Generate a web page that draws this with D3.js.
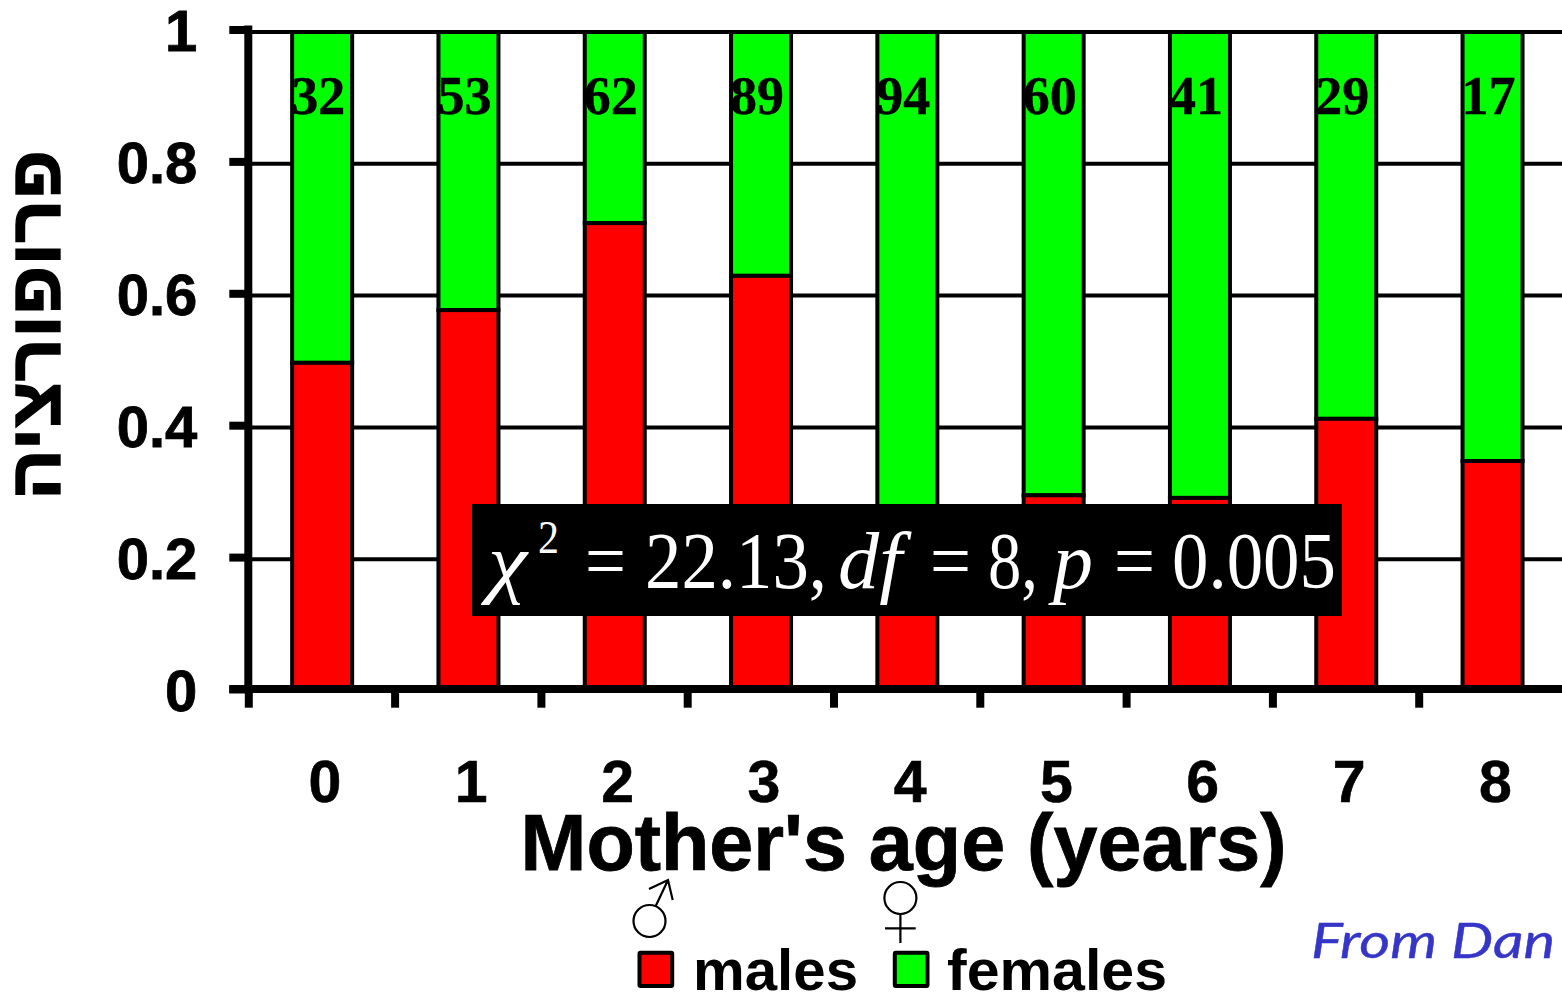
<!DOCTYPE html>
<html><head><meta charset="utf-8">
<script src="https://cdn.jsdelivr.net/npm/d3@7/dist/d3.min.js"></script>
<style>
html,body{margin:0;padding:0;background:#fff;overflow:hidden}
svg{display:block}
text{font-family:"Liberation Sans",Arial,sans-serif;font-weight:700;fill:#000}
.serif{font-family:"Liberation Serif",serif}
</style></head><body>
<svg id="c" width="1562" height="993"></svg>
<script>
const ages = [0,1,2,3,4,5,6,7,8];
const maleShare = [0.498,0.578,0.710,0.630,0.27,0.297,0.293,0.413,0.349];
const counts = [32,53,62,89,94,60,41,29,17];
const yTicks = [0,0.2,0.4,0.6,0.8,1];
const yTickLabels = ["0","0.2","0.4","0.6","0.8","1"];
const xBoundaries = [-0.5,0.5,1.5,2.5,3.5,4.5,5.5,6.5,7.5];
const legendItems = ["males","females"];
const colors = {males:"#ff0000",females:"#00ff00"};
const yTitle = "פרופורציה";
const xTitle = "Mother's age (years)";
const statParts = [
 {t:"χ",x:488,len:39,style:"italic",size:78,base:588},
 {t:"2",x:538,len:21,style:"normal",size:46,base:553},
 {t:"=",x:585,len:41,style:"normal",size:80,base:588},
 {t:"22.13,",x:645,len:182,style:"normal",size:80,base:588},
 {t:"df",x:838,len:64,style:"italic",size:80,base:588},
 {t:"=",x:930,len:41,style:"normal",size:80,base:588},
 {t:"8,",x:988,len:50,style:"normal",size:80,base:588},
 {t:"p",x:1053,len:40,style:"italic",size:80,base:588},
 {t:"=",x:1114,len:41,style:"normal",size:80,base:588},
 {t:"0.005",x:1172,len:164,style:"normal",size:80,base:588}];

const svg = d3.select("#c");
const x = d3.scaleLinear().domain([-0.5,8.5]).range([248.3,1565]);
const y = d3.scaleLinear().domain([0,1]).range([691,32]);
const yAxisScale = d3.scaleLinear().domain([0,1]).range([689,29.5]);
const barW = 60;
const sw = 4;

// gridlines
svg.append("g").selectAll("line").data(yTicks.filter(d=>d>0)).join("line")
  .attr("x1",248).attr("x2",1562).attr("y1",d=>y(d)).attr("y2",d=>y(d))
  .attr("stroke","#000").attr("stroke-width",4);

// bars
const bars = svg.append("g").selectAll("g").data(ages).join("g");
const bx = d => x(d)+0.7-barW/2;
bars.append("rect").attr("x",bx).attr("width",barW)
  .attr("y",y(1)).attr("height",(d,i)=>y(maleShare[i])-y(1))
  .attr("fill",colors.females).attr("stroke","#000").attr("stroke-width",sw);
bars.append("rect").attr("x",bx).attr("width",barW)
  .attr("y",(d,i)=>y(maleShare[i])).attr("height",(d,i)=>y(0)-y(maleShare[i]))
  .attr("fill",colors.males).attr("stroke","#000").attr("stroke-width",sw);
bars.append("text").attr("class","serif").attr("x",d=>bx(d)-1).attr("y",114)
  .attr("font-size",54).attr("stroke","#000").attr("stroke-width",0.4).text((d,i)=>counts[i]);

// top line
svg.append("line").attr("x1",248).attr("x2",1562).attr("y1",y(1)).attr("y2",y(1))
  .attr("stroke","#000").attr("stroke-width",4);

// y axis
const yAxis = d3.axisLeft(yAxisScale).tickValues(yTicks).tickSize(19).tickPadding(32)
  .tickFormat((d,i)=>yTickLabels[i]);
const gy = svg.append("g").attr("transform","translate(248.3,0)").call(yAxis);
gy.select(".domain").remove();
gy.selectAll("line").attr("stroke","#000").attr("stroke-width",8);
gy.selectAll("text").attr("font-size",58).attr("dy",21).attr("stroke","#000").attr("stroke-width",0.8);
svg.append("line").attr("x1",248.3).attr("x2",248.3).attr("y1",25.5).attr("y2",689)
  .attr("stroke","#000").attr("stroke-width",8);

// x axis
const xAxis = d3.axisBottom(x).tickValues(xBoundaries).tickSize(18.7).tickFormat("");
const gx = svg.append("g").attr("transform","translate(0,689)").call(xAxis);
gx.select(".domain").remove();
gx.selectAll("line").attr("stroke","#000").attr("stroke-width",8);
svg.append("line").attr("x1",229.3).attr("x2",1562).attr("y1",689).attr("y2",689)
  .attr("stroke","#000").attr("stroke-width",8);
svg.append("g").selectAll("text").data(ages).join("text")
  .attr("x",d=>x(d)+3.5).attr("y",802).attr("text-anchor","middle").attr("font-size",59)
  .attr("stroke","#000").attr("stroke-width",0.6).text(d=>d);

// titles
svg.append("text").attr("x",903.5).attr("y",870).attr("text-anchor","middle")
  .attr("font-size",79).attr("stroke","#000").attr("stroke-width",0.8)
  .attr("textLength",766).attr("lengthAdjust","spacingAndGlyphs").text(xTitle);
svg.append("text").attr("transform","translate(60,325) rotate(-90)").attr("text-anchor","middle")
  .attr("direction","rtl").attr("font-size",72).attr("stroke","#000").attr("stroke-width",1.4)
  .attr("textLength",350).attr("lengthAdjust","spacingAndGlyphs").text(yTitle);

// statistics box
svg.append("rect").attr("x",472).attr("y",504).attr("width",870).attr("height",112).attr("fill","#000");
svg.append("g").selectAll("text").data(statParts).join("text").attr("class","serif")
  .attr("x",d=>d.x).attr("y",d=>d.base).attr("font-size",d=>d.size)
  .attr("textLength",d=>d.len).attr("lengthAdjust","spacingAndGlyphs")
  .style("font-weight",400).style("font-style",d=>d.style).style("fill","#fff").text(d=>d.t);

// legend
const legendX = [637.5,892.8], legendTextX=[693,947], legendLen=[165,220];
legendItems.forEach((k,i)=>{
  svg.append("rect").attr("x",legendX[i]+2).attr("y",952.7).attr("width",32.7).attr("height",33.3)
    .attr("fill",colors[k]).attr("stroke","#000").attr("stroke-width",4).attr("rx",1);
  svg.append("text").attr("x",legendTextX[i]).attr("y",989.5).attr("font-size",58)
    .attr("textLength",legendLen[i]).attr("lengthAdjust","spacingAndGlyphs").text(k);
});

// sex symbols
const sym = svg.append("g").attr("fill","none").attr("stroke","#000").attr("stroke-width",2.2);
sym.append("circle").attr("cx",649.5).attr("cy",921).attr("r",16);
sym.append("path").attr("d","M655.5 906.5L668 880M649 889L668 880L672.7 900");
sym.append("circle").attr("cx",900.4).attr("cy",898).attr("r",16);
sym.append("path").attr("d","M900.4 914V943M885 928.3H915.7");

// credit
svg.append("text").attr("x",1311).attr("y",958).attr("font-size",48)
  .style("font-family","Lato, sans-serif").style("font-style","italic").style("font-weight",400).style("fill","#3535c8")
  .attr("stroke","#3535c8").attr("stroke-width",0.4)
  .attr("textLength",244).attr("lengthAdjust","spacingAndGlyphs").text("From Dan");
</script></body></html>
